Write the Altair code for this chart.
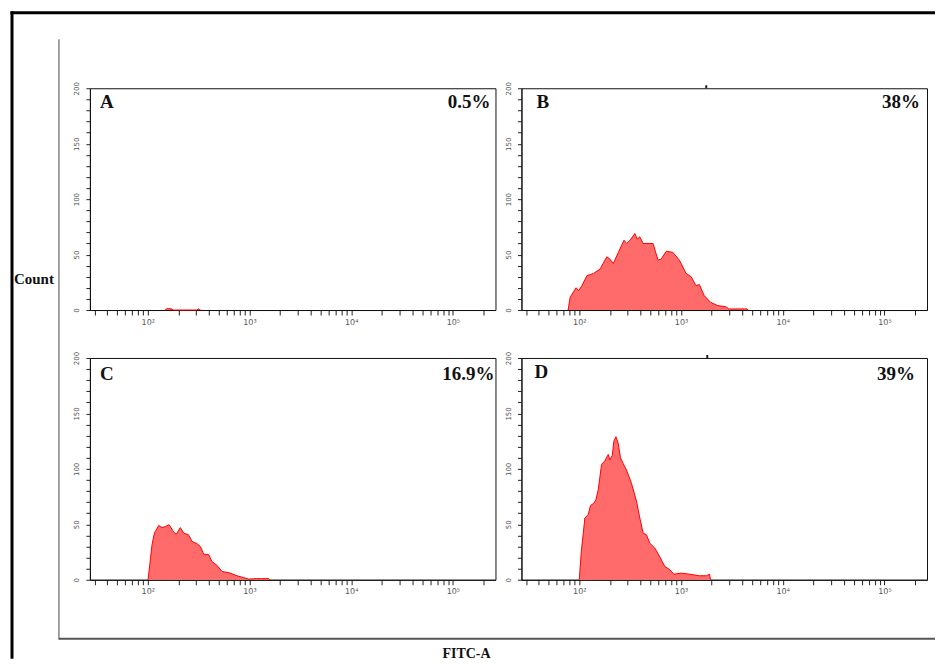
import altair as alt
import numpy as np
import pandas as pd

# ---------------- data ----------------
# x positions are log10(FITC-A), y values are counts
A_lg = [2.17, 2.19, 2.23, 2.25, 2.48, 2.50, 2.52]
A_ct = [0, 1.2, 1.2, 0, 0, 1.0, 0]

B_lg = [1.89, 1.91, 1.968, 1.994, 2.026, 2.075, 2.14, 2.205, 2.27, 2.30, 2.335, 2.384,
        2.44, 2.465, 2.50, 2.546, 2.57, 2.595, 2.628, 2.725, 2.774, 2.806, 2.855, 2.92,
        2.984, 3.05, 3.10, 3.147, 3.18, 3.228, 3.29, 3.36, 3.44, 3.47, 3.65, 3.66]
B_ct = [0, 11.5, 20, 17.5, 22, 31, 33, 37, 48, 46, 42, 52,
        63, 60, 63, 69, 64, 66, 60, 60, 45, 46, 53, 52,
        45, 33, 30, 22, 23, 13, 7, 4, 3, 1, 1, 0]

C_lg = [2.003, 2.02, 2.042, 2.065, 2.108, 2.14, 2.173, 2.21, 2.255, 2.28, 2.32, 2.353,
        2.40, 2.435, 2.484, 2.517, 2.55, 2.60, 2.63, 2.68, 2.73, 2.81, 2.877, 2.94,
        2.99, 3.07, 3.12, 3.19, 3.20]
C_ct = [0, 13.5, 31.6, 42, 49, 47, 48, 49.6, 43, 41, 47, 42,
        40.6, 34.6, 32.5, 30, 23, 22.6, 16.5, 13, 7.5, 6, 3.6, 2,
        0.6, 1, 1, 1, 0]

D_lg = [2.0, 2.02, 2.055, 2.088, 2.11, 2.143, 2.163, 2.186, 2.219, 2.25, 2.285, 2.30,
        2.324, 2.34, 2.36, 2.383, 2.405, 2.43, 2.464, 2.513, 2.562, 2.595, 2.628, 2.66,
        2.693, 2.742, 2.79, 2.84, 2.89, 2.93, 3.0, 3.085, 3.18, 3.25, 3.28, 3.29]
D_ct = [0, 25.6, 55.7, 58.7, 67, 69, 72, 81, 104, 107, 113, 108,
        112, 125, 129, 123, 110, 105, 99, 87, 71, 55.7, 42, 40.6,
        33, 28.6, 21, 12, 9, 5, 6, 5, 3.6, 3.6, 5, 0]

panel_letters = ["A", "B", "C", "D"]
panel_pcts = ["0.5%", "38%", "16.9%", "39%"]

X_DOMAIN = [27, 262144]
Y_DOMAIN = [0, 200]
X_TICKS = [k * 10 ** d for d in range(1, 6) for k in range(1, 10)
           if X_DOMAIN[0] <= k * 10 ** d <= X_DOMAIN[1]]
Y_TICKS = list(range(0, 201, 10))

W, H = 406, 222
FILL = "#ff6b6b"
LINE = "#ff0000"
SERIF = "Liberation Serif"

x_axis = alt.Axis(
    values=X_TICKS,
    labelExpr="datum.value == 100 ? '10²' : datum.value == 1000 ? '10³' : "
              "datum.value == 10000 ? '10⁴' : datum.value == 100000 ? '10⁵' : ''",
    title=None, grid=False, tickSize=5, labelFontSize=8, labelColor="#555",
    labelPadding=3, tickColor="#222", domainColor="#111", labelFlush=False,
)
y_axis = alt.Axis(
    values=Y_TICKS,
    labelExpr="datum.value % 50 == 0 ? datum.label : ''",
    title=None, grid=False, tickSize=4, labelFontSize=7, labelColor="#555",
    labelAngle=270, labelPadding=6, tickColor="#222", domainColor="#111",
)


def one(label):
    return pd.DataFrame({"label": [label]})


def panel(letter, lg, ct, pct, letter_x=10, letter_y=14, pct_x=W - 5, pct_y=14,
          extra=None):
    df = pd.DataFrame({"fitc": np.power(10.0, np.array(lg)), "count": ct})
    area = alt.Chart(df).mark_area(
        color=FILL, opacity=1, line={"color": LINE, "strokeWidth": 1}
    ).encode(
        x=alt.X("fitc:Q", scale=alt.Scale(type="log", domain=X_DOMAIN, nice=False),
                axis=x_axis),
        y=alt.Y("count:Q", scale=alt.Scale(domain=Y_DOMAIN, nice=False), axis=y_axis),
    )
    lt = alt.Chart(one(letter)).mark_text(
        font=SERIF, fontWeight="bold", fontSize=19, align="left", baseline="middle",
        color="#111",
    ).encode(text="label:N", x=alt.value(letter_x), y=alt.value(letter_y))
    pc = alt.Chart(one(pct)).mark_text(
        font=SERIF, fontWeight="bold", fontSize=19, align="right", baseline="middle",
        color="#111",
    ).encode(text="label:N", x=alt.value(pct_x), y=alt.value(pct_y))
    layers = [area, lt, pc]
    if extra:
        layers += extra
    return alt.layer(*layers).properties(width=W, height=H)


def rule(x, x2, y, y2, color, width):
    return alt.Chart(one("r")).mark_rule(color=color, strokeWidth=width).encode(
        x=alt.value(x), x2=alt.value(x2), y=alt.value(y), y2=alt.value(y2))


def top_nub(x):
    return alt.Chart(one("n")).mark_rule(color="#222", strokeWidth=2).encode(
        x=alt.value(x), y=alt.value(-3), y2=alt.value(0))


# figure decorations (drawn relative to panel A's plot origin)
decor = [
    rule(-78, -78, -77, 571, "#000", 3),          # outer frame left
    rule(-79.5, 846, -75.5, -75.5, "#000", 3),    # outer frame top
    rule(-31, -31, -49, 552, "#444", 1),          # inner left line
    rule(-31, 846, 551, 551, "#555", 2),          # inner bottom line
    alt.Chart(one("Count")).mark_text(
        font=SERIF, fontWeight="bold", fontSize=15, color="#111",
        align="center", baseline="middle").encode(
        text="label:N", x=alt.value(-56), y=alt.value(191)),
    alt.Chart(one("FITC-A")).mark_text(
        font=SERIF, fontWeight="bold", fontSize=14, color="#111",
        align="center", baseline="middle").encode(
        text="label:N", x=alt.value(377), y=alt.value(566)),
]

pA = panel(panel_letters[0], A_lg, A_ct, panel_pcts[0], pct_x=W - 5, extra=decor)
pB = panel(panel_letters[1], B_lg, B_ct, panel_pcts[1], letter_x=15, pct_x=W - 7,
           extra=[top_nub(185)])
pC = panel(panel_letters[2], C_lg, C_ct, panel_pcts[2], letter_x=10, letter_y=16,
           pct_x=W - 1, pct_y=16)
pD = panel(panel_letters[3], D_lg, D_ct, panel_pcts[3], letter_x=13, letter_y=14,
           pct_x=W - 12, pct_y=16, extra=[top_nub(186)])

chart = alt.concat(
    pA, pB, pC, pD, columns=2, bounds="flush",
    spacing={"row": 48, "column": 26},
).properties(
    padding={"left": 0, "top": 1, "right": 0, "bottom": 0},
    background="white",
).configure_view(stroke="#111", strokeWidth=1).configure_axis(
    labelFont="DejaVu Sans"
)

chart.save("out.html", embed_options={"renderer": "svg", "actions": False})
